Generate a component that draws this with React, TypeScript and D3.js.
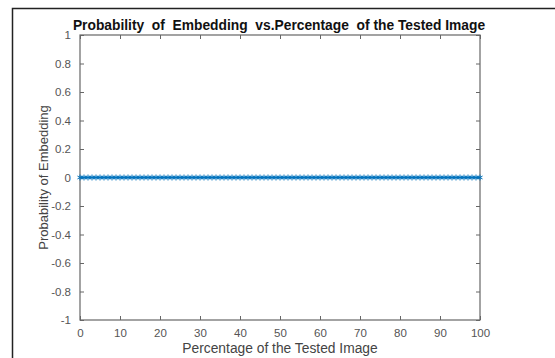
import React, { useEffect, useRef } from 'react';
import * as d3 from 'd3';

// percentage of the tested image (x) and embedding probability (y)
const percentages: number[] = [
  0, 1, 2, 3, 4, 5, 6, 7, 8, 9, 10, 11, 12, 13, 14, 15, 16, 17, 18, 19, 20,
  21, 22, 23, 24, 25, 26, 27, 28, 29, 30, 31, 32, 33, 34, 35, 36, 37, 38, 39, 40,
  41, 42, 43, 44, 45, 46, 47, 48, 49, 50, 51, 52, 53, 54, 55, 56, 57, 58, 59, 60,
  61, 62, 63, 64, 65, 66, 67, 68, 69, 70, 71, 72, 73, 74, 75, 76, 77, 78, 79, 80,
  81, 82, 83, 84, 85, 86, 87, 88, 89, 90, 91, 92, 93, 94, 95, 96, 97, 98, 99, 100,
];
const probabilities: number[] = [
  0, 0, 0, 0, 0, 0, 0, 0, 0, 0, 0, 0, 0, 0, 0, 0, 0, 0, 0, 0, 0,
  0, 0, 0, 0, 0, 0, 0, 0, 0, 0, 0, 0, 0, 0, 0, 0, 0, 0, 0, 0,
  0, 0, 0, 0, 0, 0, 0, 0, 0, 0, 0, 0, 0, 0, 0, 0, 0, 0, 0, 0,
  0, 0, 0, 0, 0, 0, 0, 0, 0, 0, 0, 0, 0, 0, 0, 0, 0, 0, 0, 0,
  0, 0, 0, 0, 0, 0, 0, 0, 0, 0, 0, 0, 0, 0, 0, 0, 0, 0, 0, 0,
];
const xTicks = [0, 10, 20, 30, 40, 50, 60, 70, 80, 90, 100];
const yTicks = [-1, -0.8, -0.6, -0.4, -0.2, 0, 0.2, 0.4, 0.6, 0.8, 1];

const FONT = '"Liberation Sans", Arial, sans-serif';

const App = () => {
  const svgRef = useRef<SVGSVGElement>(null);

  useEffect(() => {
    const svg = d3.select(svgRef.current);
    svg.selectAll('*').remove();

    const width = 555;
    const height = 358;
    const margin = { top: 35, right: 75, bottom: 38, left: 80 };
    const innerWidth = width - margin.left - margin.right;
    const innerHeight = height - margin.top - margin.bottom;

    svg.attr('width', width).attr('height', height);

    // outer frame
    svg.append('rect')
      .attr('x', 12.5)
      .attr('y', 8.5)
      .attr('width', width)
      .attr('height', height)
      .attr('fill', 'white')
      .attr('stroke', '#222')
      .attr('stroke-width', 1.5);

    const xScale = d3.scaleLinear().domain([0, 100]).range([0, innerWidth]);
    const yScale = d3.scaleLinear().domain([-1, 1]).range([innerHeight, 0]);

    const g = svg.append('g')
      .attr('transform', `translate(${margin.left},${margin.top})`);

    const styleAxis = (axis) => {
      axis.select('.domain').remove();
      axis.selectAll('line').style('stroke', '#666').style('stroke-width', 1);
      axis.selectAll('text')
        .style('fill', '#555')
        .style('font-size', '11.5px')
        .style('font-family', FONT);
    };

    // axes: ticks pointing inward on all sides (box style)
    const xAxis = g.append('g')
      .attr('transform', `translate(0,${innerHeight})`)
      .call(d3.axisBottom(xScale).tickValues(xTicks).tickSizeInner(-4).tickSizeOuter(0).tickPadding(9).tickFormat(d3.format('d')));
    styleAxis(xAxis);

    const xTop = g.append('g')
      .call(d3.axisTop(xScale).tickValues(xTicks).tickSizeInner(-4).tickSizeOuter(0).tickFormat(() => ''));
    styleAxis(xTop);

    const yAxis = g.append('g')
      .call(d3.axisLeft(yScale).tickValues(yTicks).tickSizeInner(-4).tickSizeOuter(0).tickPadding(9).tickFormat(d => `${+(+d).toFixed(1)}`));
    styleAxis(yAxis);

    const yRight = g.append('g')
      .attr('transform', `translate(${innerWidth},0)`)
      .call(d3.axisRight(yScale).tickValues(yTicks).tickSizeInner(-4).tickSizeOuter(0).tickFormat(() => ''));
    styleAxis(yRight);

    // box
    g.append('rect')
      .attr('x', 0)
      .attr('y', 0)
      .attr('width', innerWidth)
      .attr('height', innerHeight)
      .attr('fill', 'none')
      .attr('stroke', '#666')
      .attr('stroke-width', 1.2);

    const points = percentages.map((p, i) => ({ x: p, y: probabilities[i] }));

    // line
    const line = d3.line<{ x: number; y: number }>()
      .x(d => xScale(d.x))
      .y(d => yScale(d.y));

    g.append('path')
      .datum(points)
      .attr('d', line)
      .attr('fill', 'none')
      .attr('stroke', '#0072BD')
      .attr('stroke-width', 1.5);

    // star markers
    const star = d3.symbol().type(d3.symbolAsterisk).size(24);
    g.selectAll('.marker')
      .data(points)
      .enter().append('path')
      .attr('class', 'marker')
      .attr('transform', d => `translate(${xScale(d.x)},${yScale(d.y)})`)
      .attr('d', star)
      .attr('fill', 'none')
      .attr('stroke', '#0072BD')
      .attr('stroke-width', 1);

    // title
    svg.append('text')
      .attr('x', 279)
      .attr('y', 30)
      .attr('text-anchor', 'middle')
      .style('font-family', FONT)
      .style('font-size', '13.8px')
      .style('font-weight', 'bold')
      .style('fill', '#111')
      .style('white-space', 'pre')
      .text('Probability  of  Embedding  vs.Percentage  of the Tested Image');

    // axis labels
    svg.append('text')
      .attr('x', 280)
      .attr('y', 353)
      .attr('text-anchor', 'middle')
      .style('font-family', FONT)
      .style('font-size', '13.8px')
      .style('fill', '#444')
      .text('Percentage of the Tested Image');

    svg.append('text')
      .attr('transform', `translate(48,${margin.top + innerHeight / 2}) rotate(-90)`)
      .attr('text-anchor', 'middle')
      .style('font-family', FONT)
      .style('font-size', '13px')
      .style('fill', '#444')
      .text('Probability of Embedding');
  }, []);

  return (
    <svg
      ref={svgRef}
      style={{ position: 'absolute', left: 0, top: 0, display: 'block' }}
    />
  );
};

export default App;
